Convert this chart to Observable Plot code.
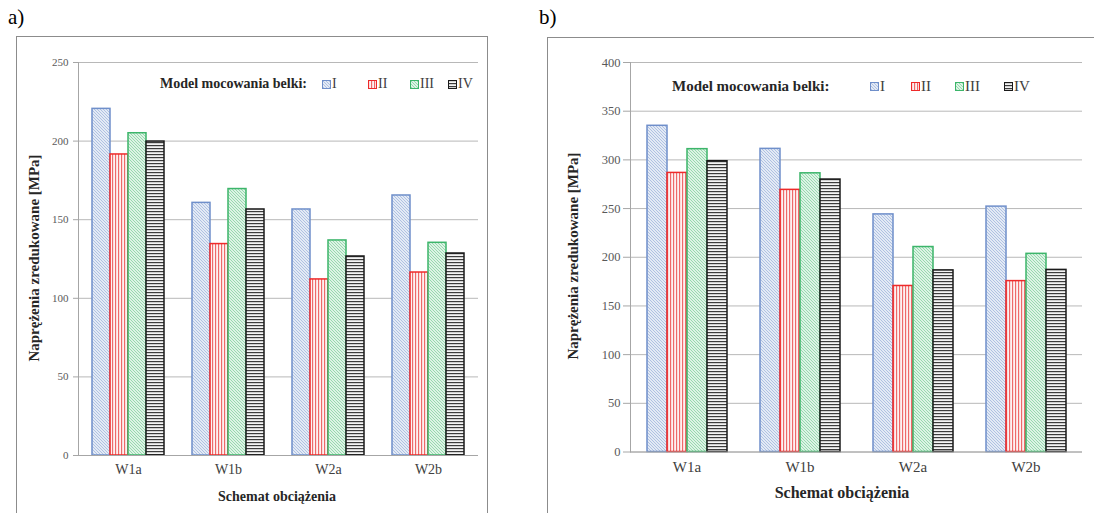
<!DOCTYPE html>
<html><head><meta charset="utf-8">
<script src="https://cdn.jsdelivr.net/npm/d3@7"></script>
<script src="https://cdn.jsdelivr.net/npm/@observablehq/plot@0.6"></script>
<style>
body{margin:0;width:1094px;height:513px;overflow:hidden;background:#fff;font-family:"Liberation Serif",serif;position:relative;color:#262626}
.panel{position:absolute;border:1px solid #8c8c8c;box-sizing:border-box;background:#fff}
.abs{position:absolute;white-space:nowrap;line-height:1;font-family:"Liberation Serif",serif}
.plotbox{position:absolute}
.ytitle{position:absolute;white-space:nowrap;font-weight:bold;transform:translate(-50%,-50%) rotate(-90deg);line-height:1}
.xtitle{position:absolute;white-space:nowrap;font-weight:bold;transform:translate(-50%,-50%);line-height:1}
.leg{position:absolute;white-space:nowrap;line-height:1;display:flex;align-items:center;color:#404040}
.leg svg{margin-right:1px}
</style>
</head><body>
<svg width="0" height="0" style="position:absolute">
<defs>
<pattern id="pI" patternUnits="userSpaceOnUse" width="3" height="3">
<rect width="3" height="3" fill="#e3eaf5"/>
<path d="M-1,-1L4,4M-1,2L1,4M2,-1L4,1" stroke="#a9bce0" stroke-width="0.9"/>
</pattern>
<pattern id="pII" patternUnits="userSpaceOnUse" width="3" height="3">
<rect width="3" height="3" fill="#fdf1f1"/>
<path d="M0.6,0L0.6,3" stroke="#ee6262" stroke-width="1.1"/>
</pattern>
<pattern id="pIII" patternUnits="userSpaceOnUse" width="3" height="3">
<rect width="3" height="3" fill="#ddf3e5"/>
<path d="M-1,-1L4,4M-1,2L1,4M2,-1L4,1" stroke="#8fd6a9" stroke-width="0.9"/>
</pattern>
<pattern id="pIV" patternUnits="userSpaceOnUse" width="3" height="3">
<rect width="3" height="3" fill="#f4f4f4"/>
<path d="M0,0.6L3,0.6" stroke="#3c3c3c" stroke-width="1.2"/>
</pattern>
</defs>
</svg>

<div class="abs" style="left:8px;top:7px;font-size:21px;color:#000">a)</div>
<div class="abs" style="left:539px;top:7px;font-size:21px;color:#000">b)</div>
<div class="panel" style="left:16px;top:36px;width:472px;height:520px"></div>
<div class="panel" style="left:547px;top:37px;width:560px;height:520px"></div>
<div id="plotA" class="plotbox" style="left:17px;top:37px"></div>
<div id="plotB" class="plotbox" style="left:548px;top:38px"></div>

<div class="ytitle" style="left:34px;top:258px;font-size:15px">Naprężenia zredukowane [MPa]</div>
<div class="ytitle" style="left:573px;top:256px;font-size:15px">Naprężenia zredukowane [MPa]</div>
<div class="xtitle" style="left:277px;top:497px;font-size:14px">Schemat obciążenia</div>
<div class="xtitle" style="left:842px;top:493px;font-size:16px">Schemat obciążenia</div>

<div class="abs" style="left:160px;top:77px;font-size:14px;font-weight:bold">Model mocowania belki:</div>
<div class="abs" style="left:672px;top:79px;font-size:15px;font-weight:bold">Model mocowania belki:</div>
<div id="legA"></div>
<div id="legB"></div>

<script>
const categories = ["W1a", "W1b", "W2a", "W2b"];
const series = ["I", "II", "III", "IV"];
// panel a) values per series, in category order
const aI = [220.5, 160.7, 156.5, 165.4];
const aII = [191.5, 134.5, 112.0, 116.4];
const aIII = [205.0, 169.5, 136.8, 135.3];
const aIV = [199.7, 156.5, 126.6, 128.5];
// panel b) values per series
const bI = [335.0, 311.3, 244.0, 252.0];
const bII = [286.6, 269.2, 170.5, 175.5];
const bIII = [311.0, 286.2, 210.5, 203.5];
const bIV = [298.6, 279.8, 186.5, 187.0];
const ticksA = [0, 50, 100, 150, 200, 250];
const ticksB = [0, 50, 100, 150, 200, 250, 300, 350, 400];
const patternFill = ["url(#pI)", "url(#pII)", "url(#pIII)", "url(#pIV)"];
const strokeColors = ["#6f8fca", "#ee2a2a", "#3cb56a", "#1a1a1a"];

function rows(vals) {
  const out = [];
  categories.forEach((c, i) => series.forEach((s, j) => out.push({cat: c, series: s, value: vals[j][i]})));
  return out;
}

function chart(o) {
  const data = rows(o.vals);
  return Plot.plot({
    width: o.width, height: o.height,
    marginLeft: o.ml, marginRight: o.mr, marginTop: o.mt, marginBottom: o.mb,
    style: {fontFamily: "Liberation Serif", background: "transparent", overflow: "visible"},
    fx: {domain: categories, padding: 0, axis: null},
    x: {domain: series, paddingInner: 0, paddingOuter: o.po, axis: null},
    y: {domain: [0, o.ymax], axis: null},
    color: {domain: series, range: patternFill},
    marks: [
      Plot.gridY(o.ticks, {stroke: "#b8b8b8", strokeOpacity: 1}),
      Plot.frame({anchor: "left", facetAnchor: "left", stroke: "#a6a6a6"}),
      Plot.axisY(o.ticks, {tickSize: o.ts, tickPadding: o.tp, fontSize: o.tf, color: "#595959", stroke: "#a6a6a6", label: null}),
      Plot.barY(data, {fx: "cat", x: "series", y: "value", fill: "series",
        stroke: d => strokeColors[series.indexOf(d.series)], strokeWidth: 1.5}),
      Plot.ruleY([0], {stroke: "#a6a6a6"}),
      Plot.axisFx({anchor: "bottom", tickSize: 0, tickPadding: o.cp, fontSize: o.cf, color: "#404040", label: null})
    ]
  });
}

document.getElementById("plotA").append(chart({
  vals: [aI, aII, aIII, aIV], ticks: ticksA, ymax: 250,
  width: 470, height: 480, ml: 59, mr: 8, mt: 25, mb: 62, po: 0.72,
  ts: 5, tp: 5, tf: 11, cp: 9, cf: 14
}));
document.getElementById("plotB").append(chart({
  vals: [bI, bII, bIII, bIV], ticks: ticksB, ymax: 400,
  width: 546, height: 480, ml: 80, mr: 11, mt: 24, mb: 66.5, po: 0.78,
  ts: 7, tp: 3, tf: 12.5, cp: 9, cf: 15
}));

function legend(id, xs, top, fs) {
  const host = document.getElementById(id);
  series.forEach((s, j) => {
    const d = document.createElement("div");
    d.className = "leg";
    d.style.left = xs[j] + "px";
    d.style.top = top + "px";
    d.style.fontSize = fs + "px";
    d.innerHTML = `<svg width="9" height="9"><rect x="0.5" y="0.5" width="8" height="8" fill="${patternFill[j]}" stroke="${strokeColors[j]}" stroke-width="1"/></svg>${s}`;
    host.append(d);
  });
}
legend("legA", [322, 368, 410, 448], 77, 14);
legend("legB", [870, 911, 955, 1004], 79, 15);
</script>
</body></html>
